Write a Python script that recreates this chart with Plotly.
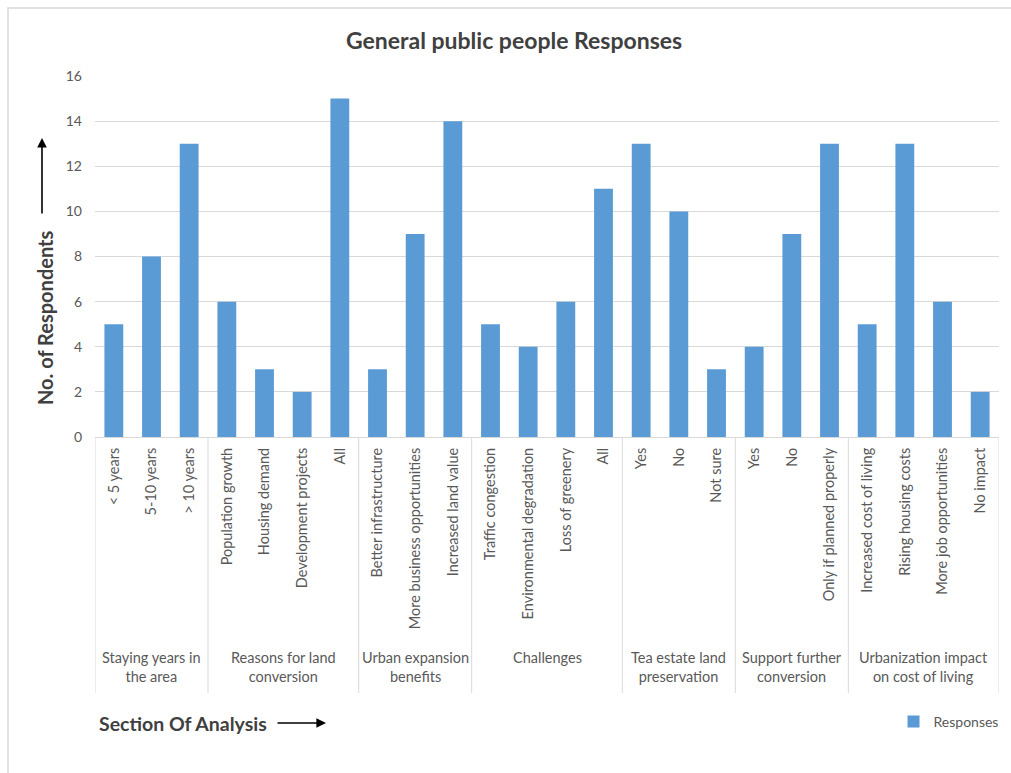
import plotly.graph_objects as go

# ---------------- data ----------------
groups = [
    "Staying years in<br>the area",
    "Reasons for land<br>conversion",
    "Urban expansion<br>benefits",
    "Challenges",
    "Tea estate land<br>preservation",
    "Support further<br>conversion",
    "Urbanization impact<br>on cost of living",
]
group_items = [
    ["< 5 years", "5-10 years", "> 10 years"],
    ["Population growth", "Housing demand", "Development projects", "All"],
    ["Better infrastructure", "More business opportunities", "Increased land value"],
    ["Traffic congestion", "Environmental degradation", "Loss of greenery", "All"],
    ["Yes", "No", "Not sure"],
    ["Yes", "No", "Only if planned properly"],
    ["Increased cost of living", "Rising housing costs", "More job opportunities", "No impact"],
]
group_values = [
    [5, 8, 13],
    [6, 3, 2, 15],
    [3, 9, 14],
    [5, 4, 6, 11],
    [13, 10, 3],
    [4, 9, 13],
    [5, 13, 6, 2],
]
y_ticks = [0, 2, 4, 6, 8, 10, 12, 14, 16]

labels = [lab for g in group_items for lab in g]
values = [v for g in group_values for v in g]
xpos = list(range(len(labels)))

# ---------------- layout geometry ----------------
W, H = 1011, 773
ML, MR, MT, MB = 95, 12, 76, 336
PW, PH = W - ML - MR, H - MT - MB


def px(x):
    return (x - ML) / PW


def py(y):
    return (H - MB - y) / PH


FONT = "Lato, 'Open Sans', sans-serif"
GRAY = "#595959"
DARK = "#404040"
LINE = "#d9d9d9"

fig = go.Figure()
fig.add_trace(go.Bar(
    x=xpos, y=values, name="Responses",
    marker=dict(color="#5B9BD5", line=dict(width=0)),
    width=0.5, showlegend=True,
))

shapes = []
annotations = []

# group dividers
bounds = [-0.5]
for g in group_items:
    bounds.append(bounds[-1] + len(g))
for b in bounds:
    shapes.append(dict(type="line", xref="x", yref="paper", x0=b, x1=b,
                       y0=0, y1=py(693), line=dict(color=LINE, width=1)))
# group labels
for i, g in enumerate(groups):
    c = (bounds[i] + bounds[i + 1]) / 2
    annotations.append(dict(x=c, xref="x", y=py(647), yref="paper", text=g,
                            showarrow=False, yanchor="top", xanchor="center",
                            font=dict(family=FONT, size=14.5, color=GRAY)))

# outer frame
shapes.append(dict(type="rect", xref="paper", yref="paper",
                   x0=px(8), x1=px(1030), y0=py(790), y1=py(8),
                   line=dict(color=LINE, width=1.5), fillcolor="rgba(0,0,0,0)",
                   layer="below"))

# title
annotations.append(dict(x=px(514), y=py(40), xref="paper", yref="paper",
                        xanchor="center", yanchor="middle",
                        text="<b>General public people Responses</b>", showarrow=False,
                        font=dict(family=FONT, size=23, color=DARK)))
# y axis title + arrow
annotations.append(dict(x=px(45), y=py(318), xref="paper", yref="paper",
                        xanchor="center", yanchor="middle",
                        text="<b>No. of Respondents</b>", showarrow=False, textangle=-90,
                        font=dict(family=FONT, size=20, color=DARK)))
annotations.append(dict(x=px(42), y=py(138), xref="paper", yref="paper", text="",
                        showarrow=True, ax=0, ay=77, arrowhead=2, arrowsize=1.2,
                        arrowwidth=1.6, arrowcolor="#000000"))
# x axis title + arrow
annotations.append(dict(x=px(97), y=py(723), xref="paper", yref="paper",
                        text="<b>Section Of Analysis</b>", showarrow=False,
                        xanchor="left", yanchor="middle",
                        font=dict(family=FONT, size=19.5, color=DARK)))
annotations.append(dict(x=px(326), y=py(723), xref="paper", yref="paper", text="",
                        showarrow=True, ax=-50, ay=0, arrowhead=2, arrowsize=1.2,
                        arrowwidth=1.6, arrowcolor="#000000"))

fig.update_layout(
    width=W, height=H,
    margin=dict(l=ML, r=MR, t=MT, b=MB, autoexpand=False),
    paper_bgcolor="white", plot_bgcolor="white",
    font=dict(family=FONT, color=GRAY),
    shapes=shapes, annotations=annotations,
    bargap=0.5,
    legend=dict(x=1.005, xanchor="right", y=py(722), yanchor="middle",
                orientation="h", font=dict(family=FONT, size=14, color=GRAY),
                itemwidth=30, bgcolor="rgba(0,0,0,0)"),
    xaxis=dict(range=[-0.5, len(labels) - 0.5], tickmode="array", tickvals=xpos,
               ticktext=labels, tickangle=-90, showgrid=False, zeroline=False,
               showline=True, linecolor=LINE, linewidth=1, ticks="",
               ticklabelstandoff=4,
               tickfont=dict(family=FONT, size=14.5, color=GRAY), fixedrange=True),
    yaxis=dict(range=[0, 16], tickmode="array", tickvals=y_ticks, showgrid=True,
               gridcolor=LINE, gridwidth=1, zeroline=False, showline=False,
               ticks="", ticklen=0, ticklabelstandoff=12,
               tickfont=dict(family=FONT, size=14, color=GRAY),
               fixedrange=True),
)

fig.write_html("out.html")
